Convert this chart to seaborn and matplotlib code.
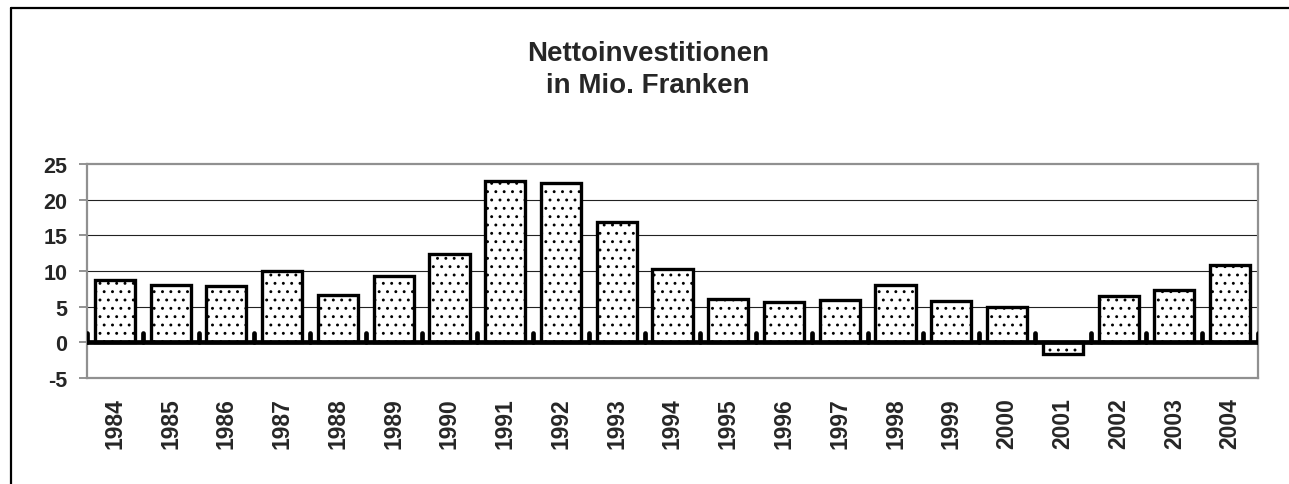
import matplotlib
matplotlib.use("Agg")
import matplotlib.pyplot as plt
from matplotlib.lines import Line2D
import seaborn as sns

# -- data ---------------------------------------------------------------------
years = ["1984", "1985", "1986", "1987", "1988", "1989", "1990", "1991", "1992", "1993", "1994",
         "1995", "1996", "1997", "1998", "1999", "2000", "2001", "2002", "2003", "2004"]
invest = [8.7, 8.0, 7.9, 10.0, 6.7, 9.3, 12.4, 22.6, 22.3, 16.8, 10.3,
          6.1, 5.7, 6.0, 8.1, 5.8, 5.0, -1.6, 6.5, 7.4, 10.9]
yticks = [-5, 0, 5, 10, 15, 20, 25]
title_lines = ["Nettoinvestitionen", "in Mio. Franken"]

sns.set_theme(style="white")
plt.rcParams["font.family"] = ["Liberation Sans", "DejaVu Sans"]
plt.rcParams["font.weight"] = "bold"
plt.rcParams["hatch.color"] = "#444444"
plt.rcParams["hatch.linewidth"] = 0.9

fig = plt.figure(figsize=(12.89, 4.85), dpi=100)
ax = fig.add_axes([87 / 1289, 1 - 379 / 485, (1258 - 87) / 1289, (379 - 165) / 485])

# -- bars ------------------------------------------------------------------------
sns.barplot(x=years, y=invest, color="white", edgecolor="black", linewidth=2.4,
            width=0.72, saturation=1, ax=ax, zorder=3)
for p in ax.patches:
    p.set_hatch("..")

# -- axes styling --------------------------------------------------------------
ax.set_ylim(-5, 25)
ax.set_xlim(-0.5, len(years) - 0.5)
ax.set_yticks(yticks)
ax.set_yticklabels([str(t) for t in yticks], fontsize=15.5, fontweight="bold")
ax.set_xticks(range(len(years)))
ax.set_xticklabels(years, rotation=90, fontsize=16.5, fontweight="bold")
ax.tick_params(axis="x", length=0, pad=14)
ax.tick_params(axis="y", length=6, width=1.2, color="#808080", pad=8, left=True)

for s in ax.spines.values():
    s.set_color("#909090")
    s.set_linewidth(1.6)

for v in yticks[2:-1]:
    ax.axhline(v, color="#222222", linewidth=0.8, zorder=1)

# thick zero line with little marks between categories
ax.axhline(0, color="black", linewidth=3.4, zorder=4)
bounds = [i - 0.5 for i in range(len(years) + 1)]
ax.vlines(bounds, 0, 1.3, color="black", linewidth=3.4, zorder=4, capstyle="round")

ax.set_xlabel("")
ax.set_ylabel("")

# -- title ----------------------------------------------------------------------
fig.text(648 / 1289, 1 - 54 / 485, title_lines[0], ha="center", va="center",
         fontsize=20, fontweight="bold")
fig.text(648 / 1289, 1 - 86 / 485, title_lines[1], ha="center", va="center",
         fontsize=20, fontweight="bold")

# -- outer frame (top and left edges only visible) -----------------------------
fx, fy = 10.5 / 1289, 1 - 8.5 / 485
fig.add_artist(Line2D([fx, 1.0], [fy, fy], color="black", linewidth=1.6, transform=fig.transFigure))
fig.add_artist(Line2D([fx, fx], [0.0, fy], color="black", linewidth=1.6, transform=fig.transFigure))

fig.savefig("out.png", dpi=100)
